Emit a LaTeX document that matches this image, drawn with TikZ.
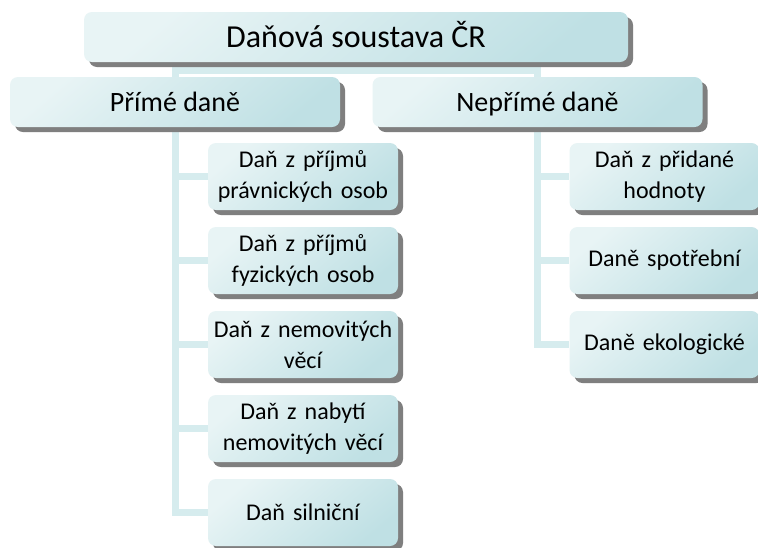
\documentclass[tikz,border=0pt]{standalone}
\usepackage{fontspec}
\setmainfont{Carlito}
\usetikzlibrary{shadows,backgrounds}
\definecolor{boxlight}{HTML}{E8F4F5}
\definecolor{boxdark}{HTML}{BFE0E4}
\definecolor{connc}{HTML}{D6ECEE}
\definecolor{shadowc}{HTML}{7F7F7F}
\tikzset{
  box/.style={rectangle, rounded corners=8pt, inner sep=2pt, align=center,
    top color=boxlight, bottom color=boxdark, shading angle=40,
    general shadow={shadow xshift=5pt, shadow yshift=-5pt, fill=shadowc}},
  topbox/.style={box, minimum width=544pt, minimum height=50pt, text height=24pt, text depth=4pt, font=\fontsize{32}{38}\selectfont},
  midbox/.style={box, minimum width=330pt, minimum height=50pt, text height=22pt, text depth=4pt, font=\fontsize{28}{33}\selectfont},
  childbox/.style={box, minimum width=190pt, minimum height=67pt, text width=186pt, font=\fontsize{24}{31}\selectfont},
  conn/.style={draw=connc, line width=7pt, line join=miter}
}
\begin{document}
\begin{tikzpicture}[x=1pt,y=-1pt]
\useasboundingbox (0,0) rectangle (758,547);
\node[topbox] (top) at (356,37) {Daňová soustava ČR};
\node[midbox] (p) at (175,102) {Přímé daně};
\node[midbox] (n) at (537.5,102) {Nepřímé daně};
\node[childbox] (c1) at (303,176.5) {Daň z příjmů\\právnických osob};
\node[childbox] (c2) at (303,260.5) {Daň z příjmů\\fyzických osob};
\node[childbox] (c3) at (303,344.5) {Daň z nemovitých\\věcí};
\node[childbox] (c4) at (303,428.5) {Daň z nabytí\\nemovitých věcí};
\node[childbox] (c5) at (303,512.5) {Daň silniční};
\node[childbox] (d1) at (664.5,176.5) {Daň z přidané\\hodnoty};
\node[childbox] (d2) at (664.5,260.5) {Daně spotřební};
\node[childbox] (d3) at (664.5,344.5) {Daně ekologické};
\coordinate (lx) at (175,0);
\coordinate (rx) at (537,0);
\coordinate (bandl) at (175,70);
\coordinate (bandr) at (537,70);
\begin{scope}[on background layer]
\fill[white] (0,0) rectangle (758,547);
\draw[conn] (top.south) -- (top.south |- bandl);
\draw[conn] (p.north -| bandl) -- (bandl) -- (bandr) -- (n.north -| bandr);
\draw[conn] (p.south -| lx) |- (c5.west);
\foreach \c in {c1,c2,c3,c4} \draw[conn] (\c.west -| lx) -- (\c.west);
\draw[conn] (n.south -| rx) |- (d3.west);
\foreach \c in {d1,d2} \draw[conn] (\c.west -| rx) -- (\c.west);
\end{scope}
\end{tikzpicture}
\end{document}
